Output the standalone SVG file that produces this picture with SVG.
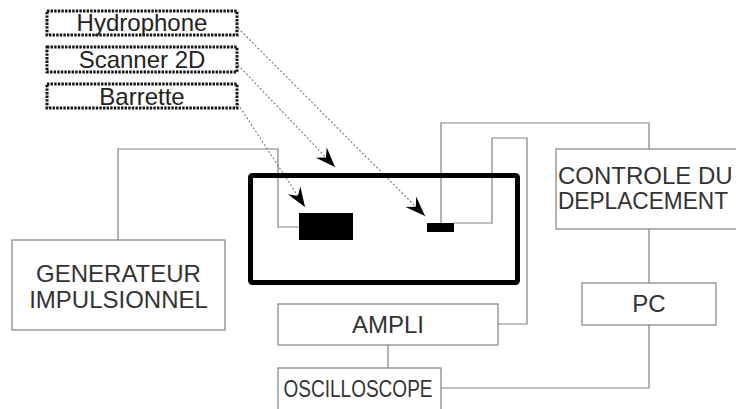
<svg xmlns="http://www.w3.org/2000/svg" width="736" height="409" viewBox="0 0 736 409">
<defs>
<marker id="ah" markerUnits="userSpaceOnUse" markerWidth="24" markerHeight="20" refX="0" refY="0" viewBox="-22 -10 24 20" orient="auto" overflow="visible">
<path d="M0,0 L-20,-7.5 L-13,0 L-20,7.5 Z" fill="#000"/>
</marker>
</defs>
<style>
.box{fill:#fff;stroke:#808080;stroke-width:1.2}
.lbl{fill:#ffffff;stroke:#111;stroke-width:3;stroke-dasharray:2.4 1.2}
.t{font-family:"Liberation Sans",Arial,sans-serif;font-size:24px;fill:#333;text-anchor:middle}
.w{fill:none;stroke:#808080;stroke-width:1.2}
.d{fill:none;stroke:#777;stroke-width:1.1;stroke-dasharray:2 2;marker-end:url(#ah)}
</style>
<rect width="736" height="409" fill="#fff"/>
<g id="connectors">
<polyline class="w" points="118,240 118,149 278,149 278,227 299,227"/>
<polyline class="w" points="441,223 441,123 649,123 649,149"/>
<polyline class="w" points="454,223 492,223 492,138 527,138 527,324 497,324"/>
<line class="w" x1="649" y1="229" x2="649" y2="283"/>
<polyline class="w" points="649,325 649,388 441,388"/>
<line class="w" x1="388" y1="345" x2="388" y2="368"/>
<line class="d" x1="238" y1="28" x2="425" y2="216"/>
<line class="d" x1="238" y1="65" x2="335" y2="167"/>
<line class="d" x1="238" y1="104" x2="305" y2="207"/>
</g>
<g id="tank">
<rect x="250.5" y="175.5" width="267" height="107" rx="2" fill="none" stroke="#000" stroke-width="5"/>
</g>
<g id="barrette-probe"><rect x="299" y="213" width="54" height="27" fill="#000"/></g>
<g id="hydrophone-probe"><rect x="427" y="223" width="27" height="9" fill="#000"/></g>
<g id="hydrophone-label">
<rect class="lbl" x="47" y="11" width="190" height="24"/>
<text class="t" x="142" y="31" style="fill:#222">Hydrophone</text>
</g>
<g id="scanner-label">
<rect class="lbl" x="47" y="47" width="190" height="25"/>
<text class="t" x="142" y="68" style="fill:#222">Scanner 2D</text>
</g>
<g id="barrette-label">
<rect class="lbl" x="47" y="84" width="190" height="24"/>
<text class="t" x="142" y="105" style="fill:#222">Barrette</text>
</g>
<g id="generateur">
<rect class="box" x="12" y="240" width="213" height="90"/>
<text class="t" x="118.5" y="282">GENERATEUR</text>
<text class="t" x="118.5" y="308">IMPULSIONNEL</text>
</g>
<g id="controle">
<rect class="box" x="556" y="149" width="200" height="80"/>
<text class="t" x="558" y="184" style="text-anchor:start">CONTROLE DU</text>
<text class="t" x="558" y="209" style="text-anchor:start" textLength="170" lengthAdjust="spacingAndGlyphs">DEPLACEMENT</text>
</g>
<g id="pc">
<rect class="box" x="582" y="283" width="134" height="42"/>
<text class="t" x="649" y="312">PC</text>
</g>
<g id="ampli">
<rect class="box" x="278" y="304" width="220" height="41"/>
<text class="t" x="388" y="333">AMPLI</text>
</g>
<g id="oscilloscope">
<rect class="box" x="278" y="368" width="163" height="50"/>
<text class="t" x="358" y="397" textLength="149" lengthAdjust="spacingAndGlyphs">OSCILLOSCOPE</text>
</g>
</svg>
